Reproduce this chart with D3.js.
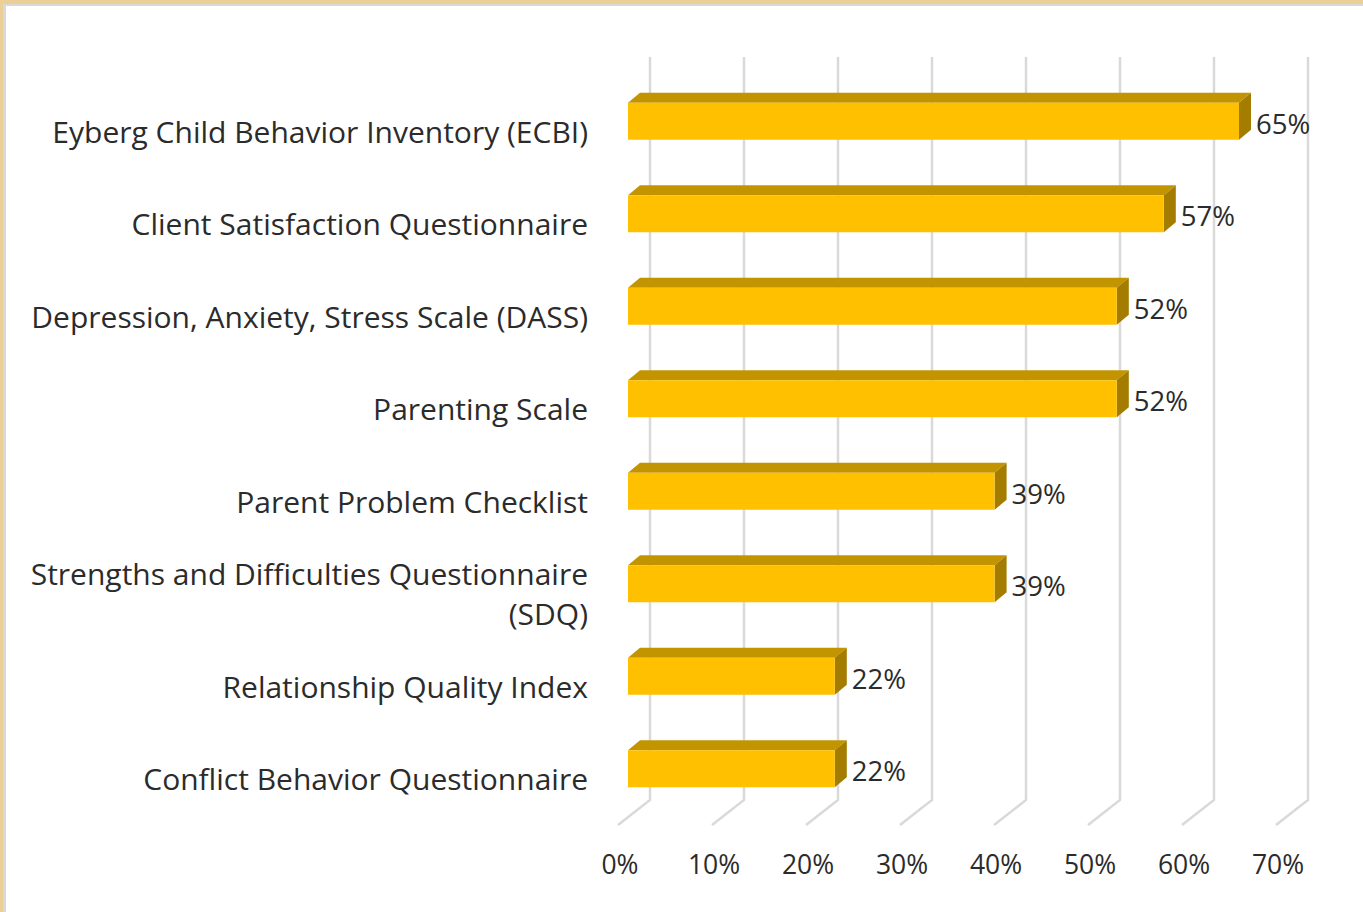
<!DOCTYPE html>
<html>
<head>
<meta charset="utf-8" />
<script src="https://cdn.jsdelivr.net/npm/d3@7"></script>
<style>
  html, body { margin: 0; padding: 0; background: #fff; }
  svg { display: block; }
  .cat, .val, .tick-label { font-family: "Open Sans", sans-serif; fill: #2b2b2b; }
  .cat { font-size: 30px; }
  .val { font-size: 27.5px; }
  .tick-label { font-size: 26.5px; }
</style>
</head>
<body>
<div id="chart"></div>
<script>
  var categories = [
    'Eyberg Child Behavior Inventory (ECBI)',
    'Client Satisfaction Questionnaire',
    'Depression, Anxiety, Stress Scale (DASS)',
    'Parenting Scale',
    'Parent Problem Checklist',
    'Strengths and Difficulties Questionnaire|(SDQ)',
    'Relationship Quality Index',
    'Conflict Behavior Questionnaire'
  ];
  var values = [65, 57, 52, 52, 39, 39, 22, 22];
  var xTicks = [0, 10, 20, 30, 40, 50, 60, 70];

  var W = 1363, H = 912;
  var barX0 = 628;          // front face of bar at 0%
  var depth = { dx: 12, dy: -10 };   // bar depth
  var backDx = 22, frontDx = -10;     // wall offsets from bar front
  var wallTop = 57, floorBack = 800, floorFront = 825;

  var svg = d3.select('#chart').append('svg')
    .attr('width', W).attr('height', H);

  // frame
  svg.append('rect').attr('width', W).attr('height', H).attr('fill', '#eccf96');
  svg.append('rect').attr('x', 3).attr('y', 4).attr('width', W).attr('height', H).attr('fill', '#d9d9d9');
  svg.append('rect').attr('x', 6).attr('y', 6).attr('width', W).attr('height', H).attr('fill', '#fff');

  var x = d3.scaleLinear().domain([0, 70]).range([0, 658]);
  var y = d3.scaleBand().domain(categories).range([75, 815])
    .paddingInner(0.6).paddingOuter(0.3);

  // gridlines: back wall + floor
  var grid = svg.append('g').attr('class', 'grid');
  grid.selectAll('path').data(xTicks).enter().append('path')
    .attr('d', function (t) {
      var xb = barX0 + backDx + x(t), xf = barX0 + frontDx + x(t);
      return 'M' + xb + ',' + wallTop + 'L' + xb + ',' + floorBack + 'L' + xf + ',' + floorFront;
    })
    .attr('fill', 'none')
    .attr('stroke', '#d9d9d9')
    .attr('stroke-width', 2.5);

  // bars
  var bars = svg.append('g').selectAll('g').data(values).enter().append('g');

  bars.append('path') // top face
    .attr('d', function (v, i) {
      var b = y(categories[i]), x1 = barX0 + x(v);
      return 'M' + barX0 + ',' + b + 'L' + (barX0 + depth.dx) + ',' + (b + depth.dy) +
        'L' + (x1 + depth.dx) + ',' + (b + depth.dy) + 'L' + x1 + ',' + b + 'Z';
    })
    .attr('fill', '#c29400');

  bars.append('path') // side face
    .attr('d', function (v, i) {
      var b = y(categories[i]), x1 = barX0 + x(v), h = y.bandwidth();
      return 'M' + x1 + ',' + b + 'L' + (x1 + depth.dx) + ',' + (b + depth.dy) +
        'L' + (x1 + depth.dx) + ',' + (b + h + depth.dy) + 'L' + x1 + ',' + (b + h) + 'Z';
    })
    .attr('fill', '#a37c00');

  bars.append('rect') // front face
    .attr('x', barX0)
    .attr('y', function (v, i) { return y(categories[i]); })
    .attr('width', function (v) { return x(v); })
    .attr('height', y.bandwidth())
    .attr('fill', '#ffc000');

  // value labels
  svg.append('g').selectAll('text').data(values).enter().append('text')
    .attr('class', 'val')
    .attr('x', function (v) { return barX0 + x(v) + depth.dx + 5; })
    .attr('y', function (v, i) { return y(categories[i]) + 31; })
    .text(function (v) { return v + '%'; });

  // category labels
  var cat = svg.append('g').selectAll('text').data(categories).enter().append('text')
    .attr('class', 'cat')
    .attr('text-anchor', 'end')
    .attr('x', 588)
    .attr('y', function (c) { return y(c) + 40; });
  cat.each(function (c) {
    var lines = c.split('|');
    var t = d3.select(this);
    var base = y(c) + 40 - (lines.length - 1) * 20;
    lines.forEach(function (l, k) {
      t.append('tspan').attr('x', 588).attr('y', base + k * 40).text(l);
    });
  });

  // x axis labels
  svg.append('g').selectAll('text').data(xTicks).enter().append('text')
    .attr('class', 'tick-label')
    .attr('text-anchor', 'middle')
    .attr('x', function (t) { return barX0 + frontDx + x(t) + 2; })
    .attr('y', 874)
    .text(function (t) { return t + '%'; });
</script>
</body>
</html>
